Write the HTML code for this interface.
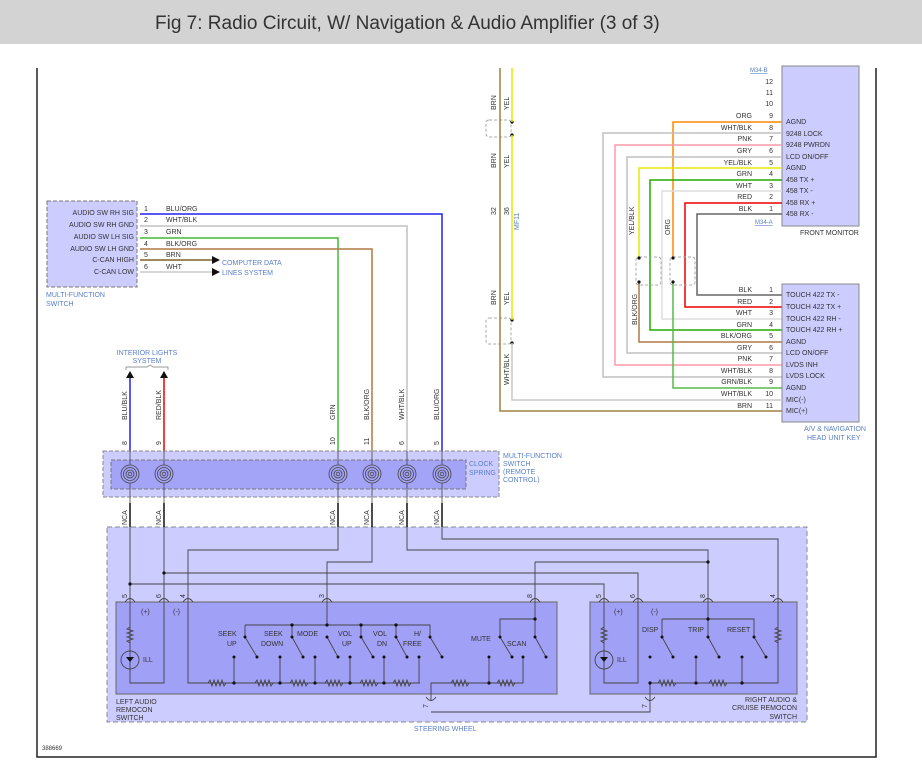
<!DOCTYPE html>
<html><head><meta charset="utf-8"><style>
body{margin:0;width:922px;height:777px;background:#fff;overflow:hidden}
svg{display:block}
text{font-family:"Liberation Sans",sans-serif;font-size:7px;fill:#333}
.b{fill:#5a7fc8}
</style></head><body>
<svg width="922" height="777" viewBox="0 0 922 777" xmlns="http://www.w3.org/2000/svg">
<rect x="0" y="0" width="922" height="44" fill="#d3d3d3"/>
<text x="155" y="29" style="font-size:19px;fill:#333">Fig 7: Radio Circuit, W/ Navigation &amp; Audio Amplifier (3 of 3)</text>
<path d="M37 68V757H876V68" fill="none" stroke="#222" stroke-width="1.5"/>
<text x="42" y="750" style="font-size:6px">388669</text>

<!-- Front monitor -->
<rect x="782" y="66" width="77" height="160" fill="#ccccff" stroke="#888"/>
<text x="750" y="72" class="b" style="font-size:6px;text-decoration:underline">M34-B</text>
<text x="755" y="224" class="b" style="font-size:6px;text-decoration:underline">M34-A</text>
<text x="800" y="235">FRONT MONITOR</text>
<g text-anchor="end">
<text x="773" y="84">12</text><text x="773" y="95">11</text><text x="773" y="106">10</text>
</g>
<g fill="none" stroke-width="1.5">
<path d="M782 122H673V258" stroke="#ff8800"/>
<path d="M782 133H603V377H782" stroke="#c0c0c0"/>
<path d="M782 145H615V365H782" stroke="#ff9aa8"/>
<path d="M782 157H627V353H782" stroke="#c0c0c0"/>
<path d="M782 168H639V258" stroke="#e8e800"/>
<path d="M782 180H650V330H782" stroke="#22aa00"/>
<path d="M782 191H662V319H782" stroke="#dddddd"/>
<path d="M782 203H685V307H782" stroke="#ee0000"/>
<path d="M782 214H697V295H782" stroke="#666"/>
<path d="M639 282V342H782" stroke="#b07840"/>
<path d="M673 282V388H782" stroke="#55bb44"/>
</g>
<g font-size="7">
<text x="752" y="118" text-anchor="end">ORG</text><text x="773" y="118" text-anchor="end">9</text>
<text x="752" y="130" text-anchor="end">WHT/BLK</text><text x="773" y="130" text-anchor="end">8</text>
<text x="752" y="141" text-anchor="end">PNK</text><text x="773" y="141" text-anchor="end">7</text>
<text x="752" y="153" text-anchor="end">GRY</text><text x="773" y="153" text-anchor="end">6</text>
<text x="752" y="165" text-anchor="end">YEL/BLK</text><text x="773" y="165" text-anchor="end">5</text>
<text x="752" y="176" text-anchor="end">GRN</text><text x="773" y="176" text-anchor="end">4</text>
<text x="752" y="188" text-anchor="end">WHT</text><text x="773" y="188" text-anchor="end">3</text>
<text x="752" y="199" text-anchor="end">RED</text><text x="773" y="199" text-anchor="end">2</text>
<text x="752" y="211" text-anchor="end">BLK</text><text x="773" y="211" text-anchor="end">1</text>
<text x="786" y="124">AGND</text><text x="786" y="136">9248 LOCK</text><text x="786" y="147">9248 PWRDN</text>
<text x="786" y="159">LCD ON/OFF</text><text x="786" y="170">AGND</text><text x="786" y="182">458 TX +</text>
<text x="786" y="193">458 TX -</text><text x="786" y="205">458 RX +</text><text x="786" y="216">458 RX -</text>
</g>
<!-- splices -->
<g fill="none" stroke="#aaa" stroke-dasharray="3,2">
<rect x="636" y="257" width="25" height="28" rx="3"/><rect x="670" y="257" width="25" height="28" rx="3"/>
<rect x="486" y="120" width="25" height="17" rx="3"/><rect x="486" y="318" width="25" height="26" rx="3"/>
</g>
<g fill="#111"><circle cx="639" cy="258" r="1.6"/><circle cx="639" cy="282" r="1.6"/><circle cx="673" cy="258" r="1.6"/><circle cx="673" cy="282" r="1.6"/>
<circle cx="512" cy="122" r="1.6"/><circle cx="512" cy="135" r="1.6"/><circle cx="512" cy="320" r="1.6"/><circle cx="512" cy="343" r="1.6"/></g>
<text transform="translate(634,235) rotate(-90)">YEL/BLK</text>
<text transform="translate(670,235) rotate(-90)">ORG</text>
<text transform="translate(637,325) rotate(-90)">BLK/ORG</text>

<!-- head unit -->
<rect x="782" y="284" width="77" height="138" fill="#ccccff" stroke="#888"/>
<text x="804" y="431" class="b">A/V &amp; NAVIGATION</text>
<text x="807" y="440" class="b">HEAD UNIT KEY</text>
<g fill="none" stroke-width="1.5">
<path d="M512 68V122M512 135V320" stroke="#e8e800"/>
<path d="M500 68V411H782" stroke="#a08040"/>
<path d="M512 343V400H782" stroke="#c8c8c8"/>
</g>
<g>
<text x="752" y="292" text-anchor="end">BLK</text><text x="773" y="292" text-anchor="end">1</text>
<text x="752" y="304" text-anchor="end">RED</text><text x="773" y="304" text-anchor="end">2</text>
<text x="752" y="315" text-anchor="end">WHT</text><text x="773" y="315" text-anchor="end">3</text>
<text x="752" y="327" text-anchor="end">GRN</text><text x="773" y="327" text-anchor="end">4</text>
<text x="752" y="338" text-anchor="end">BLK/ORG</text><text x="773" y="338" text-anchor="end">5</text>
<text x="752" y="350" text-anchor="end">GRY</text><text x="773" y="350" text-anchor="end">6</text>
<text x="752" y="361" text-anchor="end">PNK</text><text x="773" y="361" text-anchor="end">7</text>
<text x="752" y="373" text-anchor="end">WHT/BLK</text><text x="773" y="373" text-anchor="end">8</text>
<text x="752" y="384" text-anchor="end">GRN/BLK</text><text x="773" y="384" text-anchor="end">9</text>
<text x="752" y="396" text-anchor="end">WHT/BLK</text><text x="773" y="396" text-anchor="end">10</text>
<text x="752" y="408" text-anchor="end">BRN</text><text x="773" y="408" text-anchor="end">11</text>
<text x="786" y="297">TOUCH 422 TX -</text><text x="786" y="309">TOUCH 422 TX +</text><text x="786" y="321">TOUCH 422 RH -</text>
<text x="786" y="332">TOUCH 422 RH +</text><text x="786" y="344">AGND</text><text x="786" y="355">LCD ON/OFF</text>
<text x="786" y="367">LVDS INH</text><text x="786" y="378">LVDS LOCK</text><text x="786" y="390">AGND</text>
<text x="786" y="402">MIC(-)</text><text x="786" y="413">MIC(+)</text>
</g>
<text transform="translate(496,110) rotate(-90)">BRN</text><text transform="translate(509,110) rotate(-90)">YEL</text>
<text transform="translate(496,168) rotate(-90)">BRN</text><text transform="translate(509,168) rotate(-90)">YEL</text>
<text transform="translate(496,215) rotate(-90)">32</text><text transform="translate(509,215) rotate(-90)">36</text>
<text transform="translate(519,230) rotate(-90)" class="b">MF11</text>
<text transform="translate(496,305) rotate(-90)">BRN</text><text transform="translate(509,305) rotate(-90)">YEL</text>
<text transform="translate(509,385) rotate(-90)">WHT/BLK</text>

<!-- multifunction switch -->
<rect x="47" y="201" width="90" height="86" fill="#ccccff" stroke="#777" stroke-dasharray="4,2"/>
<g text-anchor="end">
<text x="134" y="215">AUDIO SW RH SIG</text><text x="134" y="227">AUDIO SW RH GND</text>
<text x="134" y="239">AUDIO SW LH SIG</text><text x="134" y="251">AUDIO SW LH GND</text>
<text x="134" y="262">C-CAN HIGH</text><text x="134" y="274">C-CAN LOW</text>
</g>
<text x="46" y="297" class="b">MULTI-FUNCTION</text><text x="46" y="306" class="b">SWITCH</text>
<g>
<text x="144" y="211">1</text><text x="166" y="211">BLU/ORG</text>
<text x="144" y="222">2</text><text x="166" y="222">WHT/BLK</text>
<text x="144" y="234">3</text><text x="166" y="234">GRN</text>
<text x="144" y="246">4</text><text x="166" y="246">BLK/ORG</text>
<text x="144" y="257">5</text><text x="166" y="257">BRN</text>
<text x="144" y="269">6</text><text x="166" y="269">WHT</text>
</g>
<g fill="none" stroke-width="1.5">
<path d="M140 214H442V451" stroke="#2222ee"/>
<path d="M140 226H407V451" stroke="#c0c0c0"/>
<path d="M140 238H338V451" stroke="#44bb33"/>
<path d="M140 249H372V451" stroke="#b07840"/>
<path d="M140 260H212" stroke="#806020"/>
<path d="M140 272H212" stroke="#ccc"/>
<path d="M130 372V451" stroke="#2222ee"/>
<path d="M164 372V451" stroke="#ee0000"/>
</g>
<path d="M212 256L220 260L212 264Z M212 268L220 272L212 276Z" fill="#111"/>
<text x="222" y="265" class="b">COMPUTER DATA</text><text x="222" y="275" class="b">LINES SYSTEM</text>
<text x="147" y="355" text-anchor="middle" class="b">INTERIOR LIGHTS</text>
<text x="147" y="363" text-anchor="middle" class="b">SYSTEM</text>
<path d="M126 370V367H147L150 365 153 367H168V370" fill="none" stroke="#777" stroke-width=".7"/>
<path d="M126 378L130 371 134 378Z M160 378L164 371 168 378Z" fill="#111"/>
<text transform="translate(127,420) rotate(-90)">BLU/BLK</text>
<text transform="translate(161,420) rotate(-90)">RED/BLK</text>
<text transform="translate(335,420) rotate(-90)">GRN</text>
<text transform="translate(369,420) rotate(-90)">BLK/ORG</text>
<text transform="translate(404,420) rotate(-90)">WHT/BLK</text>
<text transform="translate(439,420) rotate(-90)">BLU/ORG</text>
<text transform="translate(127,445) rotate(-90)">8</text><text transform="translate(161,445) rotate(-90)">9</text>
<text transform="translate(335,445) rotate(-90)">10</text><text transform="translate(369,445) rotate(-90)">11</text>
<text transform="translate(404,445) rotate(-90)">6</text><text transform="translate(439,445) rotate(-90)">5</text>

<!-- clock spring -->
<rect x="103" y="451" width="396" height="46" fill="#ccccff" stroke="#888" stroke-dasharray="4,2"/>
<rect x="111" y="460" width="355" height="29" fill="#a3a3f7" stroke="#777" stroke-dasharray="4,2"/>
<text x="469" y="466" class="b">CLOCK</text><text x="469" y="475" class="b">SPRING</text>
<text x="503" y="458" class="b">MULTI-FUNCTION</text><text x="503" y="466" class="b">SWITCH</text>
<text x="503" y="474" class="b">(REMOTE</text><text x="503" y="482" class="b">CONTROL)</text>
<g fill="none" stroke="#444" stroke-width=".8">
<g id="cs"><circle cx="130" cy="474" r="9"/><circle cx="130" cy="474" r="6.5"/><circle cx="130" cy="474" r="4"/><circle cx="130" cy="474" r="1.8"/><path d="M130 451V465M130 483V520"/></g>
<use href="#cs" x="34"/><use href="#cs" x="208"/><use href="#cs" x="242"/><use href="#cs" x="277"/><use href="#cs" x="312"/>
</g>
<g>
<text transform="translate(127,525) rotate(-90)">NCA</text><text transform="translate(161,525) rotate(-90)">NCA</text>
<text transform="translate(335,525) rotate(-90)">NCA</text><text transform="translate(369,525) rotate(-90)">NCA</text>
<text transform="translate(404,525) rotate(-90)">NCA</text><text transform="translate(439,525) rotate(-90)">NCA</text>
</g>

<!-- steering wheel -->
<rect x="107" y="527" width="700" height="195" fill="#ccccff" stroke="#888" stroke-dasharray="5,3"/>
<text x="414" y="731" class="b">STEERING WHEEL</text>
<g stroke="#111" stroke-width="1.5"><path d="M130 503V527M164 503V527M338 503V527M372 503V527M407 503V527M442 503V527"/></g>
<rect x="116" y="602" width="441" height="92" fill="#a0a0f7" stroke="#666"/>
<rect x="590" y="602" width="207" height="92" fill="#a0a0f7" stroke="#666"/>
<text x="116" y="704">LEFT AUDIO</text><text x="116" y="712">REMOCON</text><text x="116" y="720">SWITCH</text>
<g text-anchor="end"><text x="797" y="702">RIGHT AUDIO &amp;</text><text x="797" y="710">CRUISE REMOCON</text><text x="797" y="719">SWITCH</text></g>
<g fill="none" stroke="#444" stroke-width=".9">
<path d="M130 527V683H164V527"/>
<path d="M130 584H604V683H638V573H164"/>
<path d="M338 527V550H188V683H420"/>
<path d="M372 527V562H327V625"/>
<path d="M407 527V550H708V619"/>
<path d="M442 527V539H778V683H650V700"/>
<path d="M535 562H708"/>
<path d="M535 562V637M535 619H500V637"/>
<path d="M245 625H430V637M245 625V637M292 625V637M361 625V637M396 625V637"/>
<path d="M431 700V683H523V657M489 683V657"/>
<path d="M234 657V683M280 657V683M315 657V683M350 657V683M384 657V683M419 657V683"/>
<path d="M662 619H754V637M662 619V637M708 619V637"/>
<path d="M696 657V683M742 657V683"/>
<path d="M431 712H650V700"/>
<!-- switch arms -->
<path d="M245 637L257 657M292 637L303 657M327 637L338 657M361 637L373 657M396 637L407 657M430 637L442 657M500 637L512 657M535 637L546 657M662 637L673 657M708 637L719 657M754 637L766 657"/>
<!-- pin arcs -->
<path d="M125 602Q130 595 135 602M159 602Q164 595 169 602M183 602Q188 595 193 602M322 602Q327 595 332 602M530 602Q535 595 540 602M599 602Q604 595 609 602M633 602Q638 595 643 602M703 602Q708 595 713 602M773 602Q778 595 783 602"/>
<path d="M426 697Q431 704 436 697M645 697Q650 704 655 697"/>
<circle cx="130" cy="660" r="9"/><circle cx="604" cy="660" r="9"/>
</g>
<!-- resistors -->
<g fill="none" stroke="#444" stroke-width=".9" id="rs">
<path d="M208 683l2-3 2 6 2-6 2 6 2-6 2 6 2-6 2 6 2-3"/>
</g>
<use href="#rs" x="47"/><use href="#rs" x="82"/><use href="#rs" x="117"/><use href="#rs" x="152"/><use href="#rs" x="185"/>
<use href="#rs" x="243"/><use href="#rs" x="289"/><use href="#rs" x="450"/><use href="#rs" x="501"/>
<g fill="#a0a0f7" stroke="#444" stroke-width=".9">
<path d="M130 627l-3 2 6 2-6 2 6 2-6 2 6 2-6 2 3 2" fill="none"/>
<path d="M604 627l-3 2 6 2-6 2 6 2-6 2 6 2-6 2 3 2" fill="none"/>
<path d="M778 627l-3 2 6 2-6 2 6 2-6 2 6 2-6 2 3 2" fill="none"/>
</g>
<path d="M126 657h8l-4 5z M600 657h8l-4 5z" fill="#111"/>
<g fill="#111">
<circle cx="130" cy="584" r="1.6"/><circle cx="164" cy="573" r="1.6"/><circle cx="708" cy="562" r="1.6"/><circle cx="708" cy="637" r="1.5"/>
<circle cx="535" cy="619" r="1.6"/><circle cx="708" cy="619" r="1.6"/><circle cx="292" cy="625" r="1.6"/><circle cx="327" cy="625" r="1.6"/><circle cx="361" cy="625" r="1.6"/><circle cx="396" cy="625" r="1.6"/>
<circle cx="245" cy="637" r="1.5"/><circle cx="292" cy="637" r="1.5"/><circle cx="327" cy="637" r="1.5"/><circle cx="361" cy="637" r="1.5"/><circle cx="396" cy="637" r="1.5"/><circle cx="430" cy="637" r="1.5"/><circle cx="500" cy="637" r="1.5"/><circle cx="535" cy="637" r="1.5"/><circle cx="662" cy="637" r="1.5"/><circle cx="754" cy="637" r="1.5"/>
<circle cx="257" cy="657" r="1.5"/><circle cx="303" cy="657" r="1.5"/><circle cx="338" cy="657" r="1.5"/><circle cx="373" cy="657" r="1.5"/><circle cx="407" cy="657" r="1.5"/><circle cx="442" cy="657" r="1.5"/><circle cx="512" cy="657" r="1.5"/><circle cx="546" cy="657" r="1.5"/><circle cx="673" cy="657" r="1.5"/><circle cx="719" cy="657" r="1.5"/><circle cx="766" cy="657" r="1.5"/>
<circle cx="234" cy="657" r="1.5"/><circle cx="280" cy="657" r="1.5"/><circle cx="315" cy="657" r="1.5"/><circle cx="350" cy="657" r="1.5"/><circle cx="384" cy="657" r="1.5"/><circle cx="419" cy="657" r="1.5"/><circle cx="489" cy="657" r="1.5"/><circle cx="523" cy="657" r="1.5"/><circle cx="650" cy="657" r="1.5"/><circle cx="696" cy="657" r="1.5"/><circle cx="742" cy="657" r="1.5"/>
<circle cx="234" cy="683" r="1.6"/><circle cx="280" cy="683" r="1.6"/><circle cx="315" cy="683" r="1.6"/><circle cx="350" cy="683" r="1.6"/><circle cx="384" cy="683" r="1.6"/><circle cx="489" cy="683" r="1.6"/><circle cx="650" cy="683" r="1.6"/><circle cx="696" cy="683" r="1.6"/><circle cx="742" cy="683" r="1.6"/>
</g>
<g>
<text x="141" y="614">(+)</text><text x="173" y="614">(-)</text><text x="143" y="662">ILL</text>
<text x="614" y="614">(+)</text><text x="651" y="614">(-)</text><text x="617" y="662">ILL</text>
<text x="218" y="636">SEEK</text><text x="227" y="646">UP</text>
<text x="264" y="636">SEEK</text><text x="261" y="646">DOWN</text>
<text x="297" y="636">MODE</text>
<text x="338" y="636">VOL</text><text x="342" y="646">UP</text>
<text x="373" y="636">VOL</text><text x="377" y="646">DN</text>
<text x="414" y="636">H/</text><text x="403" y="646">FREE</text>
<text x="471" y="641">MUTE</text><text x="507" y="646">SCAN</text>
<text x="642" y="632">DISP</text><text x="688" y="632">TRIP</text><text x="727" y="632">RESET</text>
<text transform="translate(127,598) rotate(-90)">5</text><text transform="translate(161,598) rotate(-90)">6</text>
<text transform="translate(185,598) rotate(-90)">4</text><text transform="translate(324,598) rotate(-90)">3</text>
<text transform="translate(532,598) rotate(-90)">8</text><text transform="translate(601,598) rotate(-90)">5</text>
<text transform="translate(635,598) rotate(-90)">6</text><text transform="translate(705,598) rotate(-90)">8</text>
<text transform="translate(775,598) rotate(-90)">4</text>
<text transform="translate(428,708) rotate(-90)">7</text><text transform="translate(647,708) rotate(-90)">7</text>
</g>
</svg>
</body></html>
